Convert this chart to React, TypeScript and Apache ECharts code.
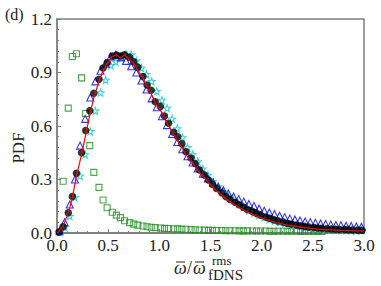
import React, { useEffect, useRef } from "react";
import * as echarts from "echarts";

// Black dots (bin centres, width ~0.043)
const xBlack = [0.02,0.06,0.11,0.15,0.19,0.24,0.28,0.32,0.36,0.41,0.45,0.49,0.54,0.58,0.62,0.66,0.71,0.75,0.79,0.84,0.88,0.92,0.96,1.01,1.05,1.09,1.14,1.18,1.22,1.26,1.31,1.35,1.39,1.44,1.48,1.52,1.56,1.61,1.65,1.69,1.74,1.78,1.82,1.86,1.91,1.95,1.99,2.04,2.08,2.12,2.16,2.21,2.25,2.29,2.34,2.38,2.42,2.46,2.51,2.55,2.59,2.64,2.68,2.72,2.76,2.81,2.85,2.89,2.94,2.98];
const yBlack = [0.005,0.035,0.114,0.204,0.335,0.45,0.575,0.686,0.784,0.862,0.925,0.955,0.993,0.998,0.993,1.0,0.985,0.96,0.93,0.877,0.83,0.8,0.736,0.71,0.656,0.615,0.565,0.54,0.5,0.456,0.42,0.39,0.355,0.325,0.297,0.272,0.25,0.225,0.205,0.188,0.172,0.158,0.145,0.132,0.12,0.11,0.1,0.09,0.082,0.074,0.067,0.061,0.055,0.05,0.045,0.041,0.037,0.034,0.031,0.028,0.026,0.024,0.022,0.021,0.02,0.019,0.018,0.017,0.016,0.015];

// Red line
const xRed = [0.0,0.02,0.06,0.11,0.15,0.19,0.24,0.28,0.32,0.36,0.41,0.45,0.49,0.54,0.58,0.62,0.66,0.71,0.75,0.79,0.84,0.88,0.92,0.96,1.01,1.05,1.09,1.14,1.18,1.22,1.26,1.31,1.35,1.39,1.44,1.48,1.52,1.56,1.61,1.65,1.69,1.74,1.78,1.82,1.86,1.91,1.95,1.99,2.04,2.08,2.12,2.16,2.21,2.25,2.29,2.34,2.38,2.42,2.46,2.51,2.55,2.59,2.64,2.68,2.72,2.76,2.81,2.85,2.89,2.94,2.98,3.0];
const yRed = [0,0.01,0.04,0.11,0.2,0.32,0.44,0.55,0.66,0.76,0.85,0.91,0.95,0.99,1.0,0.98,1.0,0.97,0.95,0.91,0.87,0.82,0.78,0.73,0.69,0.645,0.6,0.555,0.515,0.48,0.44,0.405,0.372,0.34,0.31,0.283,0.258,0.235,0.213,0.193,0.175,0.158,0.143,0.13,0.117,0.105,0.095,0.086,0.077,0.07,0.063,0.056,0.05,0.045,0.041,0.037,0.033,0.03,0.027,0.025,0.022,0.02,0.018,0.017,0.016,0.015,0.014,0.013,0.013,0.012,0.012,0.012];

// Blue triangles and cyan stars (bin width ~0.05)
const xFine = [0.025,0.075,0.125,0.175,0.225,0.275,0.325,0.375,0.425,0.475,0.525,0.575,0.625,0.675,0.725,0.775,0.825,0.875,0.925,0.975,1.025,1.075,1.125,1.175,1.225,1.275,1.325,1.375,1.425,1.475,1.525,1.575,1.625,1.675,1.725,1.775,1.825,1.875,1.925,1.975,2.025,2.075,2.125,2.175,2.225,2.275,2.325,2.375,2.425,2.475,2.525,2.575,2.625,2.675,2.725,2.775,2.825,2.875,2.925,2.975];
const yBlue = [0.01,0.06,0.16,0.3,0.49,0.64,0.76,0.85,0.91,0.95,0.99,1.0,0.985,0.965,0.935,0.9,0.855,0.805,0.755,0.705,0.655,0.605,0.555,0.51,0.47,0.43,0.395,0.362,0.333,0.306,0.282,0.26,0.24,0.222,0.205,0.19,0.176,0.163,0.151,0.138,0.125,0.115,0.106,0.097,0.089,0.082,0.076,0.07,0.065,0.061,0.057,0.053,0.05,0.047,0.045,0.043,0.041,0.039,0.037,0.035];
const yCyan = [0.005,0.032,0.095,0.2,0.32,0.44,0.57,0.685,0.787,0.858,0.94,0.96,0.985,1.0,1.0,0.965,0.925,0.89,0.85,0.795,0.745,0.7,0.64,0.585,0.535,0.48,0.44,0.4,0.36,0.325,0.29,0.26,0.232,0.205,0.183,0.163,0.145,0.128,0.113,0.1,0.088,0.077,0.068,0.06,0.053,0.047,0.042,0.037,0.033,0.03,0.027,0.024,0.022,0.02,0.018,0.017,0.016,0.015,0.014,0.013];

// Green squares
const xGreen = [0.06,0.11,0.15,0.19,0.24,0.28,0.32,0.36,0.41,0.45,0.49,0.54,0.58,0.62,0.66,0.71,0.75,0.79,0.84,0.88,0.92,0.96,1.01,1.05,1.09,1.14,1.18,1.22,1.26,1.31,1.35,1.39,1.44,1.48,1.52,1.56,1.61,1.65,1.69,1.74,1.78,1.82,1.86,1.91,1.95,1.99,2.04,2.08,2.12,2.16,2.21,2.25,2.29,2.34,2.38,2.42,2.46,2.51,2.55,2.59];
const yGreen = [0.29,0.7,0.99,1.005,0.87,0.67,0.49,0.34,0.256,0.185,0.142,0.116,0.1,0.086,0.069,0.058,0.05,0.044,0.039,0.035,0.032,0.03,0.028,0.026,0.025,0.024,0.023,0.022,0.021,0.019,0.018,0.017,0.016,0.015,0.015,0.014,0.014,0.013,0.013,0.013,0.012,0.012,0.012,0.011,0.011,0.011,0.011,0.01,0.01,0.01,0.01,0.01,0.01,0.01,0.009,0.009,0.009,0.009,0.009,0.009];

const xTicks = [0, 0.5, 1.0, 1.5, 2.0, 2.5, 3.0];
const yTicks = [0, 0.3, 0.6, 0.9, 1.2];

const zip = (xs: number[], ys: number[]) => xs.map((x, i) => [x, ys[i]]);

const STAR = "path://M0,-10 L2.35,-3.24 L9.51,-3.09 L3.8,1.24 L5.88,8.09 L0,4 L-5.88,8.09 L-3.8,1.24 L-9.51,-3.09 L-2.35,-3.24 Z";
const FONT = "'Liberation Serif', 'DejaVu Serif', serif";
const AX = "#7f7f7f";
const TXT = "#222";

export default function App() {
  const ref = useRef<HTMLDivElement>(null);
  useEffect(() => {
    if (!ref.current) return;
    const chart = echarts.init(ref.current, undefined, { renderer: "svg" });
    const hollow = (c: string) => ({ color: "rgba(0,0,0,0)", borderColor: c, borderWidth: 1.1 });
    chart.setOption({
      animation: false,
      backgroundColor: "#fff",
      textStyle: { fontFamily: FONT },
      grid: { left: 57, top: 19, right: 17, bottom: 53, show: true, borderColor: AX, borderWidth: 1.5, backgroundColor: "transparent" },
      xAxis: {
        type: "value", min: xTicks[0], max: xTicks[xTicks.length - 1], interval: 0.5,
        axisLine: { lineStyle: { color: AX, width: 2 } },
        axisTick: { inside: true, length: 4, lineStyle: { color: AX } },
        minorTick: { show: true, splitNumber: 5, length: 2, lineStyle: { color: AX } },
        splitLine: { show: false },
        axisLabel: { fontFamily: FONT, fontSize: 17, lineHeight: 12, color: TXT, margin: 6, formatter: (v: number) => v.toFixed(1) },
      },
      yAxis: {
        type: "value", min: yTicks[0], max: yTicks[yTicks.length - 1], interval: 0.3,
        axisLine: { show: true, lineStyle: { color: AX, width: 1.5 } },
        axisTick: { show: true, inside: true, length: 4, lineStyle: { color: AX } },
        minorTick: { show: true, splitNumber: 5, length: 2, lineStyle: { color: AX } },
        splitLine: { show: false },
        axisLabel: { fontFamily: FONT, fontSize: 17, lineHeight: 12, color: TXT, margin: 5, formatter: (v: number) => v.toFixed(1) },
      },
      series: [
        { type: "scatter", data: zip(xGreen, yGreen), symbol: "rect", symbolSize: 6, itemStyle: hollow("#1f8f1f"), z: 2 },
        { type: "scatter", data: zip(xFine, yCyan), symbol: STAR, symbolSize: 7, itemStyle: hollow("#10c8c8"), z: 3 },
        { type: "scatter", data: zip(xFine, yBlue), symbol: "triangle", symbolSize: 7, itemStyle: hollow("#0000ff"), z: 4 },
        { type: "scatter", data: zip(xBlack, yBlack), symbol: "circle", symbolSize: 7.5, itemStyle: { color: "#000" }, z: 5 },
        { type: "line", data: zip(xRed, yRed), showSymbol: false, symbol: "none", lineStyle: { color: "#ff0000", width: 1.2 }, z: 6 },
      ],
      graphic: [
        { type: "text", left: 5, top: 6, style: { text: "(d)", fontFamily: FONT, fontSize: 16, fill: TXT } },
        { type: "text", x: 18, y: 148, rotation: Math.PI / 2, style: { text: "PDF", fontFamily: FONT, fontSize: 17, fill: TXT, align: "center", verticalAlign: "middle" } },
        { type: "text", x: 174, y: 259, style: { text: "ω", fontFamily: FONT, fontSize: 18, fontStyle: "italic", fill: TXT } },
        { type: "line", shape: { x1: 176, y1: 262, x2: 185, y2: 262 }, style: { stroke: TXT, lineWidth: 1 } },
        { type: "text", x: 187, y: 259, style: { text: "/", fontFamily: FONT, fontSize: 18, fill: TXT } },
        { type: "text", x: 193, y: 259, style: { text: "ω", fontFamily: FONT, fontSize: 18, fontStyle: "italic", fill: TXT } },
        { type: "line", shape: { x1: 195, y1: 262, x2: 204, y2: 262 }, style: { stroke: TXT, lineWidth: 1 } },
        { type: "text", x: 212, y: 254, style: { text: "rms", fontFamily: FONT, fontSize: 13, fill: TXT } },
        { type: "text", x: 208, y: 267, style: { text: "fDNS", fontFamily: FONT, fontSize: 15, fill: TXT } },
      ],
    });
    return () => chart.dispose();
  }, []);
  return <div ref={ref} style={{ width: 381, height: 286, position: "absolute", left: 0, top: 0 }} />;
}
